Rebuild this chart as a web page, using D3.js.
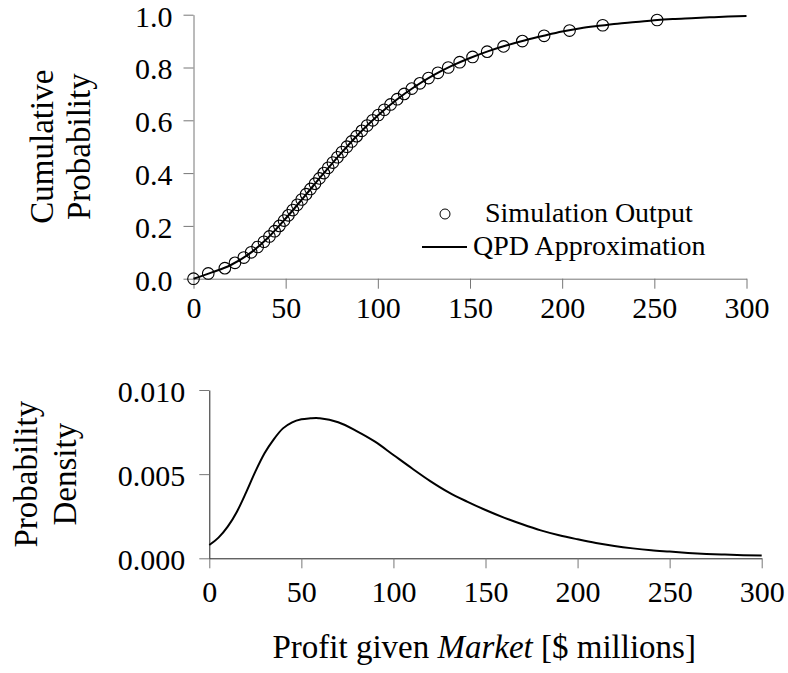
<!DOCTYPE html>
<html lang="en">
<head>
    <meta charset="utf-8">
    <title>Profit given Market</title>
    <style>
        body {
            margin: 0;
            background: white;
        }

        .axis .domain {
            stroke: #777;
        }

        .axis .tick line {
            stroke: #777;
        }
    </style>
</head>
<body>
<svg class="chart"></svg>
<script src="https://d3js.org/d3.v7.min.js"></script>
<script>

  const width = 788;
  const height = 673;
  const serif = "'Liberation Serif', 'Times New Roman', serif";

  // simulation output: quantile levels and the profit read at each
  const simProb = d3.range(0, 50).map(i => i / 50);
  const simProfit = [
    0, 8, 17, 22.5, 27.3, 31.3, 34.8, 38.2, 41.2, 44.0,
    46.6, 49.1, 51.5, 53.9, 56.3, 58.7, 61.1, 63.5, 65.9, 68.3,
    70.7, 73.1, 75.6, 78.1, 80.6, 83.2, 85.8, 88.5, 91.3, 94.2,
    97.2, 100.3, 103.5, 106.9, 110.5, 114.3, 118.4, 122.8, 127.5, 132.6,
    138.2, 144.4, 151.4, 159.3, 168.2, 178.4, 190.2, 204.0, 222.0, 251.5
  ];

  // QPD approximation, cumulative
  const cdfProfit = d3.range(0, 301, 10);
  const cdfProb = [
    0, 0.024, 0.051, 0.093, 0.152, 0.228, 0.31, 0.394, 0.475, 0.551,
    0.618, 0.677, 0.727, 0.77, 0.806, 0.836, 0.862, 0.884, 0.903, 0.92,
    0.936, 0.949, 0.958, 0.966, 0.972, 0.979, 0.984, 0.987, 0.99, 0.993,
    0.995
  ];

  // QPD approximation, density
  const pdfProfit = [0, 5, 10, 15, 20, 25, 30, 35, 40, 45, 50, 55, 58, 60,
    70, 80, 90, 100, 110, 120, 130, 140, 150, 160, 170, 180, 190, 200,
    210, 220, 230, 240, 250, 260, 270, 280, 290, 300];
  const pdfValue = [0.00079, 0.00123, 0.00188, 0.00277, 0.00392, 0.00515,
    0.00624, 0.00707, 0.00772, 0.00808, 0.00826, 0.00832, 0.00834, 0.00832,
    0.00808, 0.00756, 0.00693, 0.00614, 0.00535, 0.00459, 0.00392, 0.00337,
    0.00287, 0.00242, 0.00202, 0.00166, 0.00137, 0.00113, 0.00091, 0.00073,
    0.00059, 0.00048, 0.00040, 0.00032, 0.00026, 0.00022, 0.00018, 0.00016];

  const xTicks = [0, 50, 100, 150, 200, 250, 300];
  const cdfTicks = [0, 0.2, 0.4, 0.6, 0.8, 1.0];
  const pdfTicks = [0, 0.005, 0.010];

  const legendLabels = ["Simulation Output", "QPD Approximation"];

  const svg = d3.select(".chart")
    .attr("width", width)
    .attr("height", height)
    .style("font-family", serif);

  svg.append("rect")
    .attr("width", width)
    .attr("height", height)
    .attr("fill", "white");

  // axis text in the serif face
  function styleTicks(g, dy) {
    g.attr("font-family", serif).attr("font-size", 30);
    g.selectAll("text")
      .style("font-family", serif)
      .style("font-size", "30px")
      .attr("fill", "black");
    if (dy) g.selectAll("text").attr("dy", dy);
  }

  // ---------- top panel: cumulative probability ----------
  const x1 = d3.scaleLinear().domain([0, 300]).range([193.5, 746.5]);
  const y1 = d3.scaleLinear().domain([0, 1]).range([278.7, 14.7]);

  const cdfPanel = svg.append("g");

  cdfPanel.append("g")
    .attr("class", "axis")
    .attr("transform", `translate(0,${y1(0)})`)
    .call(d3.axisBottom(x1).tickValues(xTicks).tickFormat(d3.format("d"))
      .tickSize(10).tickSizeOuter(0).tickPadding(8))
    .call(g => styleTicks(g));

  cdfPanel.append("g")
    .attr("class", "axis")
    .attr("transform", `translate(${x1(0)},0)`)
    .call(d3.axisLeft(y1).tickValues(cdfTicks).tickFormat(d3.format(".1f"))
      .tickSize(10).tickSizeOuter(0).tickPadding(11))
    .call(g => styleTicks(g, "0.38em"));

  const cdfLine = d3.line()
    .x((d, i) => x1(cdfProfit[i]))
    .y(d => y1(d))
    .curve(d3.curveMonotoneX);

  cdfPanel.append("path")
    .datum(cdfProb)
    .attr("d", cdfLine)
    .attr("fill", "none")
    .attr("stroke", "black")
    .attr("stroke-width", 2);

  cdfPanel.selectAll("circle.sim")
    .data(simProb)
    .enter()
    .append("circle")
    .attr("class", "sim")
    .attr("cx", (d, i) => x1(simProfit[i]))
    .attr("cy", d => y1(d))
    .attr("r", 5.8)
    .attr("fill", "none")
    .attr("stroke", "black")
    .attr("stroke-width", 1.1);

  cdfPanel.append("text")
    .attr("transform", `translate(53,${(y1(0) + y1(1)) / 2}) rotate(-90)`)
    .attr("text-anchor", "middle")
    .style("font-size", "33px")
    .text("Cumulative");

  cdfPanel.append("text")
    .attr("transform", `translate(90,${(y1(0) + y1(1)) / 2}) rotate(-90)`)
    .attr("text-anchor", "middle")
    .style("font-size", "33px")
    .text("Probability");

  // legend
  const legend = cdfPanel.append("g");
  legend.append("circle")
    .attr("cx", 445).attr("cy", 214).attr("r", 5)
    .attr("fill", "none").attr("stroke", "black").attr("stroke-width", 1);
  legend.append("text")
    .attr("x", 485).attr("y", 222)
    .style("font-size", "28px")
    .text(legendLabels[0]);
  legend.append("line")
    .attr("x1", 422).attr("x2", 467).attr("y1", 247).attr("y2", 247)
    .attr("stroke", "black").attr("stroke-width", 2);
  legend.append("text")
    .attr("x", 473).attr("y", 255)
    .style("font-size", "28px")
    .text(legendLabels[1]);

  // ---------- bottom panel: probability density ----------
  const x2 = d3.scaleLinear().domain([0, 300]).range([209.3, 761.7]);
  const y2 = d3.scaleLinear().domain([0, 0.010]).range([558.3, 390]);

  const pdfPanel = svg.append("g");

  pdfPanel.append("g")
    .attr("class", "axis")
    .attr("transform", `translate(0,${y2(0)})`)
    .call(d3.axisBottom(x2).tickValues(xTicks).tickFormat(d3.format("d"))
      .tickSize(10).tickSizeOuter(0).tickPadding(12))
    .call(g => g.select(".domain").style("stroke", "#222"))
    .call(g => styleTicks(g));

  pdfPanel.append("g")
    .attr("class", "axis")
    .attr("transform", `translate(${x2(0)},0)`)
    .call(d3.axisLeft(y2).tickValues(pdfTicks).tickFormat(d3.format(".3f"))
      .tickSize(10).tickSizeOuter(0).tickPadding(14))
    .call(g => g.select(".domain").style("stroke", "#222"))
    .call(g => styleTicks(g, "0.38em"));

  const pdfLine = d3.line()
    .x((d, i) => x2(pdfProfit[i]))
    .y(d => y2(d))
    .curve(d3.curveMonotoneX);

  pdfPanel.append("path")
    .datum(pdfValue)
    .attr("d", pdfLine)
    .attr("fill", "none")
    .attr("stroke", "black")
    .attr("stroke-width", 2);

  pdfPanel.append("text")
    .attr("transform", `translate(37,${(y2(0) + y2(0.010)) / 2}) rotate(-90)`)
    .attr("text-anchor", "middle")
    .style("font-size", "33px")
    .text("Probability");

  pdfPanel.append("text")
    .attr("transform", `translate(76,${(y2(0) + y2(0.010)) / 2}) rotate(-90)`)
    .attr("text-anchor", "middle")
    .style("font-size", "33px")
    .text("Density");

  // shared x label
  const xLabel = svg.append("text")
    .attr("x", (271.7 + 696.7) / 2)
    .attr("y", 658)
    .attr("text-anchor", "middle")
    .style("font-size", "33px");
  xLabel.append("tspan").text("Profit given ");
  xLabel.append("tspan").style("font-style", "italic").text("Market");
  xLabel.append("tspan").text(" [$ millions]");

</script>
</body>
</html>
